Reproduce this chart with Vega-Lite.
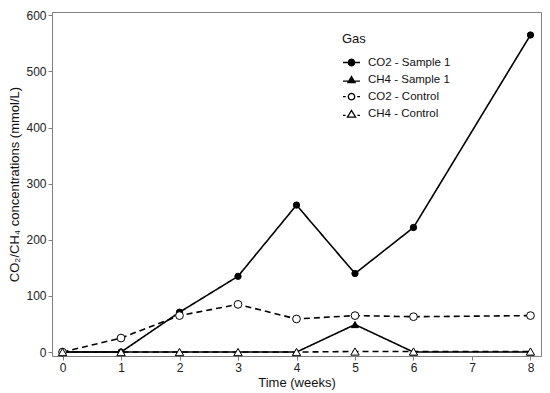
{
  "$schema": "https://vega.github.io/schema/vega-lite/v6.json",
  "width": 489,
  "height": 344,
  "autosize": {"type": "none"},
  "padding": {"left": 52, "top": 12, "right": 9, "bottom": 37},
  "background": "white",
  "config": {
    "font": "Liberation Sans",
    "view": {"stroke": "#808080", "strokeWidth": 1},
    "axis": {
      "domain": false,
      "grid": false,
      "tickColor": "#808080",
      "tickSize": 4,
      "labelColor": "#222222",
      "labelFontSize": 12,
      "titleColor": "#111111",
      "titleFontSize": 13,
      "titleFontWeight": "normal"
    }
  },
  "data": {
    "values": [
      {"week": 0, "value": 0, "series": "CO2 - Sample 1"},
      {"week": 1, "value": 0, "series": "CO2 - Sample 1"},
      {"week": 2, "value": 71, "series": "CO2 - Sample 1"},
      {"week": 3, "value": 135, "series": "CO2 - Sample 1"},
      {"week": 4, "value": 262, "series": "CO2 - Sample 1"},
      {"week": 5, "value": 140, "series": "CO2 - Sample 1"},
      {"week": 6, "value": 222, "series": "CO2 - Sample 1"},
      {"week": 8, "value": 565, "series": "CO2 - Sample 1"},
      {"week": 0, "value": 0, "series": "CH4 - Sample 1"},
      {"week": 1, "value": 0, "series": "CH4 - Sample 1"},
      {"week": 2, "value": 0, "series": "CH4 - Sample 1"},
      {"week": 3, "value": 0, "series": "CH4 - Sample 1"},
      {"week": 4, "value": 0, "series": "CH4 - Sample 1"},
      {"week": 5, "value": 49, "series": "CH4 - Sample 1"},
      {"week": 6, "value": 0, "series": "CH4 - Sample 1"},
      {"week": 8, "value": 0, "series": "CH4 - Sample 1"},
      {"week": 0, "value": 0, "series": "CO2 - Control"},
      {"week": 1, "value": 25, "series": "CO2 - Control"},
      {"week": 2, "value": 65, "series": "CO2 - Control"},
      {"week": 3, "value": 85, "series": "CO2 - Control"},
      {"week": 4, "value": 59, "series": "CO2 - Control"},
      {"week": 5, "value": 65, "series": "CO2 - Control"},
      {"week": 6, "value": 63, "series": "CO2 - Control"},
      {"week": 8, "value": 65, "series": "CO2 - Control"},
      {"week": 0, "value": 0, "series": "CH4 - Control"},
      {"week": 1, "value": 0, "series": "CH4 - Control"},
      {"week": 2, "value": 0, "series": "CH4 - Control"},
      {"week": 3, "value": 0, "series": "CH4 - Control"},
      {"week": 4, "value": 0, "series": "CH4 - Control"},
      {"week": 5, "value": 1, "series": "CH4 - Control"},
      {"week": 6, "value": 1, "series": "CH4 - Control"},
      {"week": 8, "value": 1, "series": "CH4 - Control"}
    ]
  },
  "encoding": {
    "x": {
      "field": "week", "type": "quantitative",
      "scale": {"domain": [-0.18, 8.18], "nice": false, "zero": false},
      "axis": {"values": [0, 1, 2, 3, 4, 5, 6, 7, 8], "title": "Time (weeks)", "labelPadding": 2, "titlePadding": 3}
    },
    "y": {
      "field": "value", "type": "quantitative",
      "scale": {"domain": [-7, 606], "nice": false, "zero": false},
      "axis": {"values": [0, 100, 200, 300, 400, 500, 600], "title": "CO₂/CH₄ concentrations (mmol/L)", "labelPadding": 2, "titlePadding": 4}
    }
  },
  "resolve": {"scale": {"shape": "independent", "fill": "independent", "strokeDash": "independent"}},
  "layer": [
    {
      "mark": {"type": "line", "color": "black", "strokeWidth": 1.6},
      "encoding": {
        "detail": {"field": "series"},
        "strokeDash": {
          "field": "series", "type": "nominal",
          "scale": {"domain": ["CO2 - Sample 1", "CH4 - Sample 1", "CO2 - Control", "CH4 - Control"], "range": [[1, 0], [1, 0], [6, 4], [6, 4]]},
          "legend": null
        }
      }
    },
    {
      "mark": {"type": "point", "stroke": "black", "strokeWidth": 1, "opacity": 1},
      "encoding": {
        "shape": {
          "field": "series", "type": "nominal",
          "scale": {"domain": ["CO2 - Sample 1", "CH4 - Sample 1", "CO2 - Control", "CH4 - Control"], "range": ["circle", "triangle-up", "circle", "triangle-up"]},
          "legend": null
        },
        "fill": {
          "field": "series", "type": "nominal",
          "scale": {"domain": ["CO2 - Sample 1", "CH4 - Sample 1", "CO2 - Control", "CH4 - Control"], "range": ["black", "black", "white", "white"]},
          "legend": null
        },
        "size": {
          "field": "series", "type": "nominal",
          "scale": {"domain": ["CO2 - Sample 1", "CH4 - Sample 1", "CO2 - Control", "CH4 - Control"], "range": [40, 70, 45, 75]},
          "legend": null
        }
      }
    },
    {
      "mark": {"type": "point", "opacity": 0, "stroke": "black"},
      "encoding": {
        "shape": {
          "field": "series", "type": "nominal",
          "scale": {
            "domain": ["CO2 - Sample 1", "CH4 - Sample 1", "CO2 - Control", "CH4 - Control"],
            "range": [
              "M0.38,0L0.329,0.19L0.19,0.329L0,0.38L-0.19,0.329L-0.329,0.19L-0.38,0L-0.329,-0.19L-0.19,-0.329L0,-0.38L0.19,-0.329L0.329,-0.19ZM-1,0H1M-0.148,-0.35H0.148M-0.233,-0.3H0.233M-0.286,-0.25H0.286M-0.323,-0.2H0.323M-0.349,-0.15H0.349M-0.367,-0.1H0.367M-0.377,-0.05H0.377M-0.377,0.05H0.377M-0.367,0.1H0.367M-0.349,0.15H0.349M-0.323,0.2H0.323M-0.286,0.25H0.286M-0.233,0.3H0.233M-0.148,0.35H0.148",
              "M0,-0.42L0.42,0.3L-0.42,0.3ZM-1,0.12H1M-0.041,-0.35H0.041M-0.07,-0.3H0.07M-0.099,-0.25H0.099M-0.128,-0.2H0.128M-0.158,-0.15H0.158M-0.187,-0.1H0.187M-0.216,-0.05H0.216M-0.245,0H0.245M-0.274,0.05H0.274M-0.303,0.1H0.303M-0.333,0.15H0.333M-0.362,0.2H0.362M-0.391,0.25H0.391",
              "M0.38,0L0.329,0.19L0.19,0.329L0,0.38L-0.19,0.329L-0.329,0.19L-0.38,0L-0.329,-0.19L-0.19,-0.329L0,-0.38L0.19,-0.329L0.329,-0.19ZM-1,0H-0.67M0.67,0H1",
              "M0,-0.45L0.48,0.33L-0.48,0.33ZM-1,0.12H-0.7M0.7,0.12H1"
            ]
          },
          "legend": {
            "title": "Gas",
            "orient": "none",
            "legendX": 290,
            "legendY": 21,
            "titleFontSize": 13,
            "titleFontWeight": "normal",
            "titleColor": "#111111",
            "titlePadding": 7,
            "labelFontSize": 11.5,
            "labelColor": "#111111",
            "labelOffset": 7,
            "rowPadding": 1.6,
            "symbolSize": 289,
            "symbolOpacity": 1,
            "symbolStrokeWidth": 1.3,
            "symbolStrokeColor": "black",
            "symbolFillColor": "white"
          }
        }
      }
    }
  ]
}
